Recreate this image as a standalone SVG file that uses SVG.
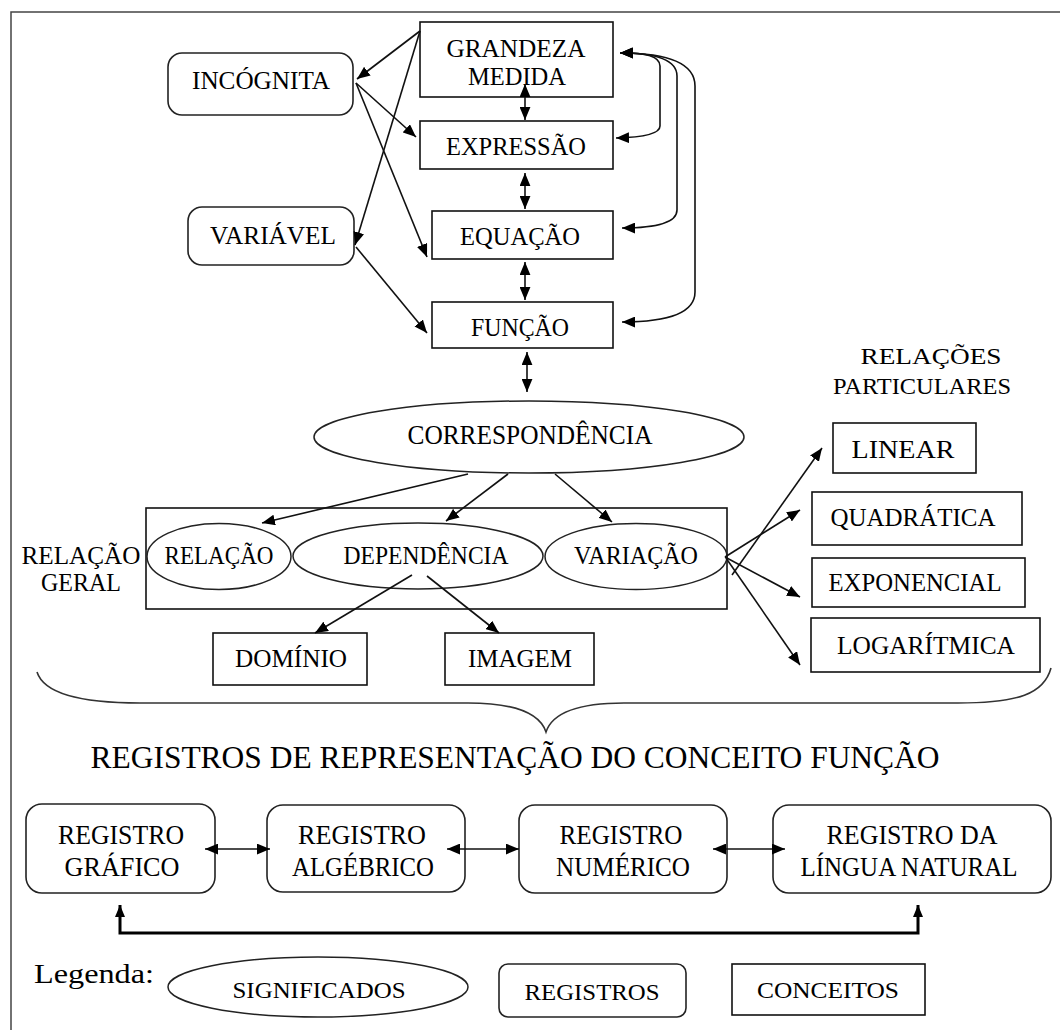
<svg xmlns="http://www.w3.org/2000/svg" width="1060" height="1030" viewBox="0 0 1060 1030">
  <defs>
    <style>
      text { font-family: "Liberation Serif", "Times New Roman", serif; fill: #000; text-anchor: middle; }
      .f24 { font-size: 26px; }
      .f26 { font-size: 28px; }
      .f22 { font-size: 24px; }
      .box { fill: #fff; stroke: #111; stroke-width: 1.6; }
      .rbox { fill: #fff; stroke: #222; stroke-width: 1.6; }
      .ell { fill: #fff; stroke: #222; stroke-width: 1.5; }
      .edge { fill: none; stroke: #111; stroke-width: 1.6; }
      .thick { fill: none; stroke: #000; stroke-width: 3; }
      .frame { fill: none; stroke: #444; stroke-width: 1.5; }
    </style>
    <marker id="ah" viewBox="0 0 12 10" refX="12" refY="5" markerWidth="13" markerHeight="11" markerUnits="userSpaceOnUse" orient="auto-start-reverse">
      <path d="M0,0 L12,5 L0,10 z" fill="#000"/>
    </marker>
    <marker id="ahs" viewBox="0 0 12 10" refX="12" refY="5" markerWidth="12" markerHeight="10" markerUnits="userSpaceOnUse" orient="auto-start-reverse">
      <path d="M0,0 L12,5 L0,10 z" fill="#000"/>
    </marker>
  </defs>

  <rect x="0" y="0" width="1060" height="1030" fill="#fff"/>
  <path class="frame" d="M11,1030 L11,12 L1060,12"/>

  <!-- concept boxes, upper block -->
  <g id="grandeza">
    <rect class="box" x="420" y="22" width="193" height="75"/>
    <text class="f24" x="516" y="57" textLength="139" lengthAdjust="spacingAndGlyphs">GRANDEZA</text>
    <text class="f24" x="517" y="85" textLength="98" lengthAdjust="spacingAndGlyphs">MEDIDA</text>
  </g>
  <g id="incognita">
    <rect class="rbox" x="168" y="53" width="185" height="62" rx="14"/>
    <text class="f24" x="261" y="89" textLength="138" lengthAdjust="spacingAndGlyphs">INCÓGNITA</text>
  </g>
  <g id="expressao">
    <rect class="box" x="420" y="121" width="193" height="48"/>
    <text class="f24" x="516" y="155" textLength="140" lengthAdjust="spacingAndGlyphs">EXPRESSÃO</text>
  </g>
  <g id="variavel">
    <rect class="rbox" x="188" y="207" width="166" height="58" rx="14"/>
    <text class="f24" x="273" y="244" textLength="126" lengthAdjust="spacingAndGlyphs">VARIÁVEL</text>
  </g>
  <g id="equacao">
    <rect class="box" x="432" y="211" width="181" height="48"/>
    <text class="f24" x="520" y="245" textLength="120" lengthAdjust="spacingAndGlyphs">EQUAÇÃO</text>
  </g>
  <g id="funcao">
    <rect class="box" x="432" y="302" width="181" height="46"/>
    <text class="f24" x="520" y="336" textLength="98" lengthAdjust="spacingAndGlyphs">FUNÇÃO</text>
  </g>

  <!-- meanings -->
  <g id="correspondencia">
    <ellipse class="ell" cx="529" cy="437" rx="215" ry="36"/>
    <text class="f26" x="530" y="444" textLength="245" lengthAdjust="spacingAndGlyphs">CORRESPONDÊNCIA</text>
  </g>
  <g id="relacao-geral">
    <rect class="box" x="146" y="508" width="581" height="101" fill="none"/>
    <text class="f24" x="81" y="564" textLength="119" lengthAdjust="spacingAndGlyphs">RELAÇÃO</text>
    <text class="f24" x="81" y="591" textLength="80" lengthAdjust="spacingAndGlyphs">GERAL</text>
  </g>
  <g id="relacao">
    <ellipse class="ell" cx="219" cy="556.5" rx="72" ry="33"/>
    <text class="f24" x="219" y="564" textLength="109" lengthAdjust="spacingAndGlyphs">RELAÇÃO</text>
  </g>
  <g id="dependencia">
    <ellipse class="ell" cx="418" cy="556" rx="125" ry="33"/>
    <text class="f24" x="426" y="564" textLength="165" lengthAdjust="spacingAndGlyphs">DEPENDÊNCIA</text>
  </g>
  <g id="variacao">
    <ellipse class="ell" cx="636" cy="556.5" rx="91" ry="33"/>
    <text class="f24" x="636" y="564" textLength="124" lengthAdjust="spacingAndGlyphs">VARIAÇÃO</text>
  </g>
  <g id="dominio">
    <rect class="box" x="213" y="633" width="154" height="52"/>
    <text class="f24" x="291" y="667" textLength="112" lengthAdjust="spacingAndGlyphs">DOMÍNIO</text>
  </g>
  <g id="imagem">
    <rect class="box" x="445" y="633" width="149" height="52"/>
    <text class="f24" x="520" y="667" textLength="104" lengthAdjust="spacingAndGlyphs">IMAGEM</text>
  </g>

  <!-- particular relations -->
  <g id="relacoes-particulares">
    <text class="f22" x="931" y="364" textLength="141" lengthAdjust="spacingAndGlyphs">RELAÇÕES</text>
    <text class="f22" x="922" y="394" textLength="178" lengthAdjust="spacingAndGlyphs">PARTICULARES</text>
  </g>
  <g id="linear">
    <rect class="box" x="833" y="423" width="143" height="50"/>
    <text class="f24" x="903" y="458" textLength="103" lengthAdjust="spacingAndGlyphs">LINEAR</text>
  </g>
  <g id="quadratica">
    <rect class="box" x="812" y="492" width="210" height="53"/>
    <text class="f24" x="913" y="526" textLength="165" lengthAdjust="spacingAndGlyphs">QUADRÁTICA</text>
  </g>
  <g id="exponencial">
    <rect class="box" x="812" y="558" width="213" height="49"/>
    <text class="f24" x="915" y="591" textLength="173" lengthAdjust="spacingAndGlyphs">EXPONENCIAL</text>
  </g>
  <g id="logaritmica">
    <rect class="box" x="811" y="618" width="229" height="54"/>
    <text class="f24" x="926" y="654" textLength="178" lengthAdjust="spacingAndGlyphs">LOGARÍTMICA</text>
  </g>

  <!-- brace and heading -->
  <path d="M37,672 C44,694 80,703 140,703 L468,703 C518,703 540,714 546,732 C552,714 574,703 624,703 L958,703 C1018,703 1044,694 1051,668" fill="none" stroke="#333" stroke-width="1.6"/>
  <text x="515" y="768" style="font-size:32px" textLength="849" lengthAdjust="spacingAndGlyphs">REGISTROS DE REPRESENTAÇÃO DO CONCEITO FUNÇÃO</text>

  <!-- representation registers -->
  <g id="reg-grafico">
    <rect class="rbox" x="26" y="804" width="189" height="89" rx="16"/>
    <text class="f26" x="121" y="844" textLength="126" lengthAdjust="spacingAndGlyphs">REGISTRO</text>
    <text class="f26" x="122" y="876" textLength="115" lengthAdjust="spacingAndGlyphs">GRÁFICO</text>
  </g>
  <g id="reg-algebrico">
    <rect class="rbox" x="267" y="805" width="198" height="87" rx="16"/>
    <text class="f26" x="362" y="844" textLength="128" lengthAdjust="spacingAndGlyphs">REGISTRO</text>
    <text class="f26" x="363" y="876" textLength="142" lengthAdjust="spacingAndGlyphs">ALGÉBRICO</text>
  </g>
  <g id="reg-numerico">
    <rect class="rbox" x="519" y="805" width="208" height="88" rx="16"/>
    <text class="f26" x="621" y="844" textLength="123" lengthAdjust="spacingAndGlyphs">REGISTRO</text>
    <text class="f26" x="623" y="876" textLength="134" lengthAdjust="spacingAndGlyphs">NUMÉRICO</text>
  </g>
  <g id="reg-lingua">
    <rect class="rbox" x="773" y="805" width="278" height="88" rx="16"/>
    <text class="f26" x="912" y="844" textLength="171" lengthAdjust="spacingAndGlyphs">REGISTRO DA</text>
    <text class="f26" x="909" y="876" textLength="217" lengthAdjust="spacingAndGlyphs">LÍNGUA NATURAL</text>
  </g>

  <!-- legend -->
  <g id="legenda">
    <text class="f26" x="34" y="983" style="text-anchor:start" textLength="120" lengthAdjust="spacingAndGlyphs">Legenda:</text>
  </g>
  <g id="leg-significados">
    <ellipse class="ell" cx="318" cy="987" rx="150" ry="30"/>
    <text class="f22" x="319" y="998" textLength="173" lengthAdjust="spacingAndGlyphs">SIGNIFICADOS</text>
  </g>
  <g id="leg-registros">
    <rect class="rbox" x="499" y="964" width="187" height="53" rx="9"/>
    <text class="f22" x="592" y="1000" textLength="135" lengthAdjust="spacingAndGlyphs">REGISTROS</text>
  </g>
  <g id="leg-conceitos">
    <rect class="box" x="732" y="964" width="193" height="51"/>
    <text class="f22" x="828" y="998" textLength="142" lengthAdjust="spacingAndGlyphs">CONCEITOS</text>
  </g>

  <!-- connectors -->
  <g id="connectors">
    <path class="edge" d="M420,31 L357,79" marker-end="url(#ah)"/>
    <path class="edge" d="M420,31 L355,245" marker-end="url(#ah)"/>
    <path class="edge" d="M356,83 L416,137" marker-end="url(#ah)"/>
    <path class="edge" d="M356,83 L427,257" marker-end="url(#ah)"/>
    <path class="edge" d="M356,247 L427,333" marker-end="url(#ah)"/>

    <path class="edge" d="M525,84 L525,120" marker-start="url(#ah)" marker-end="url(#ah)"/>
    <path class="edge" d="M525,173 L525,209" marker-start="url(#ah)" marker-end="url(#ah)"/>
    <path class="edge" d="M525,262 L525,300" marker-start="url(#ah)" marker-end="url(#ah)"/>
    <path class="edge" d="M527,352 L527,392" marker-start="url(#ah)" marker-end="url(#ah)"/>

    <path class="edge" d="M620,53 Q660,52 660,66 L660,126 Q660,137 616,138" marker-start="url(#ah)" marker-end="url(#ah)"/>
    <path class="edge" d="M620,53 Q677,53 677,76 L677,210 Q677,228 622,228" marker-start="url(#ah)" marker-end="url(#ah)"/>
    <path class="edge" d="M620,53 Q695,53 695,86 L695,292 Q695,322 622,322" marker-start="url(#ah)" marker-end="url(#ah)"/>

    <path class="edge" d="M468,474 L262,523" marker-end="url(#ah)"/>
    <path class="edge" d="M508,474 L446,521" marker-end="url(#ah)"/>
    <path class="edge" d="M555,474 L612,522" marker-end="url(#ah)"/>

    <path class="edge" d="M412,575 L315,633" marker-end="url(#ah)"/>
    <path class="edge" d="M427,576 L499,633" marker-end="url(#ah)"/>

    <path class="edge" d="M732,575 L822,448" marker-end="url(#ah)"/>
    <path class="edge" d="M725,557 L800,510" marker-end="url(#ah)"/>
    <path class="edge" d="M725,557 L800,597" marker-end="url(#ah)"/>
    <path class="edge" d="M726,558 L800,665" marker-end="url(#ah)"/>

    <path class="edge" d="M205,849 L270,849" marker-start="url(#ah)" marker-end="url(#ah)"/>
    <path class="edge" d="M447,849 L519,849" marker-start="url(#ah)" marker-end="url(#ah)"/>
    <path class="edge" d="M713,849 L785,849" marker-start="url(#ah)" marker-end="url(#ah)"/>

    <path class="thick" d="M120,905 L120,933 L918,933 L918,905" marker-start="url(#ahs)" marker-end="url(#ahs)"/>
  </g>
</svg>
